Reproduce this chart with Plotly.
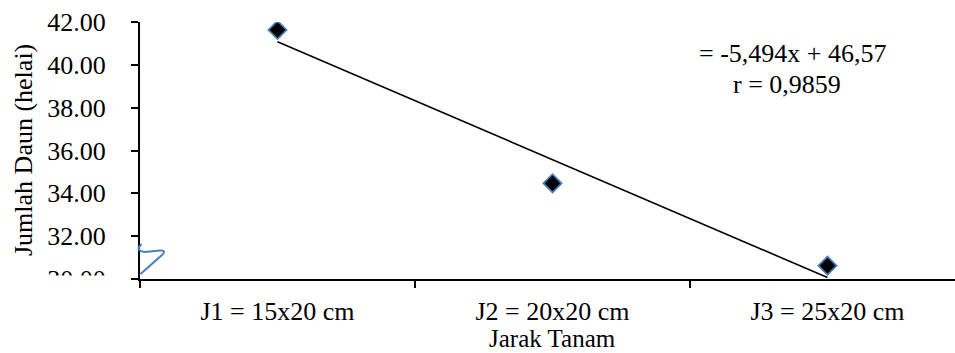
import numpy as np
import plotly.graph_objects as go

categories = ["J1 = 15x20 cm", "J2 = 20x20 cm", "J3 = 25x20 cm"]
jumlah_daun = [41.63, 34.47, 30.62]
y_ticks = [30, 32, 34, 36, 38, 40, 42]
y_tick_labels = ["30.00", "32.00", "34.00", "36.00", "38.00", "40.00", "42.00"]
equation_text = "= -5,494x + 46,57"
r_text = "r = 0,9859"

W, H = 955, 353
L, R, T, B = 140, 0, 22, 74
pw, ph = W - L - R, H - T - B

def px(xp):
    return (xp - L) / pw

def py(yp):
    return (H - B - yp) / ph

FONT = "Liberation Serif"
FS = 26

xs = np.arange(1, len(categories) + 1)
slope, intercept = np.polyfit(xs, jumlah_daun, 1)
trend = slope * xs + intercept

fig = go.Figure()
fig.add_trace(go.Scatter(
    x=categories, y=trend, mode="lines",
    line=dict(color="black", width=1.6), showlegend=False, hoverinfo="skip"))
fig.add_trace(go.Scatter(
    x=categories, y=jumlah_daun, mode="markers",
    marker=dict(symbol="diamond", size=14, color="black",
                line=dict(color="#4a7ebb", width=1.8)),
    showlegend=False))

cat_span = pw / 275.0
fig.update_xaxes(
    type="category", range=[-0.5, -0.5 + cat_span], tickson="boundaries",
    ticks="outside", ticklen=7, tickwidth=1.5, tickcolor="black",
    showline=True, linecolor="black", linewidth=2, showgrid=False, zeroline=False,
    tickfont=dict(family=FONT, size=FS, color="black"), ticklabelstandoff=8,
)
fig.update_yaxes(
    range=[30, 42], tickvals=y_ticks, ticktext=y_tick_labels,
    ticks="outside", ticklen=7, tickwidth=1.5, tickcolor="black",
    showline=True, linecolor="black", linewidth=2, showgrid=False, zeroline=False,
    tickfont=dict(family=FONT, size=FS, color="black"), ticklabelstandoff=20,
)

annotations = [
    dict(text=equation_text, x=px(697), y=py(53), xref="paper", yref="paper",
         xanchor="left", yanchor="middle", showarrow=False,
         font=dict(family=FONT, size=FS, color="black")),
    dict(text=r_text, x=px(731), y=py(84), xref="paper", yref="paper",
         xanchor="left", yanchor="middle", showarrow=False,
         font=dict(family=FONT, size=FS, color="black")),
    dict(text="Jarak Tanam", x=px(552), y=py(338), xref="paper", yref="paper",
         xanchor="center", yanchor="middle", showarrow=False,
         font=dict(family=FONT, size=25, color="black")),
    dict(text="Jumlah Daun (helai)", x=px(23), y=py(150), xref="paper", yref="paper",
         xanchor="center", yanchor="middle", showarrow=False, textangle=-90,
         font=dict(family=FONT, size=FS, color="black")),
]

squiggle = (f"M {px(140.5)},{py(274)} L {px(162)},{py(255)} "
            f"Q {px(167)},{py(250)} {px(160)},{py(250.5)} "
            f"L {px(145)},{py(252)} Q {px(137)},{py(251)} {px(139)},{py(247)} "
            f"L {px(141.5)},{py(244)}")

shapes = [
    dict(type="rect", xref="paper", yref="paper", x0=px(40), x1=px(128),
         y0=py(300), y1=py(275.5), fillcolor="white", line=dict(width=0), layer="above"),
    dict(type="path", xref="paper", yref="paper", path=squiggle,
         line=dict(color="#4a7ebb", width=2), layer="above"),
]

fig.update_layout(
    width=W, height=H, margin=dict(l=L, r=R, t=T, b=B, pad=0),
    plot_bgcolor="white", paper_bgcolor="white",
    annotations=annotations, shapes=shapes,
)

fig.write_html("out.html", config={"displayModeBar": False},
               post_script="document.body.style.margin='0';document.body.style.overflow='hidden';")
